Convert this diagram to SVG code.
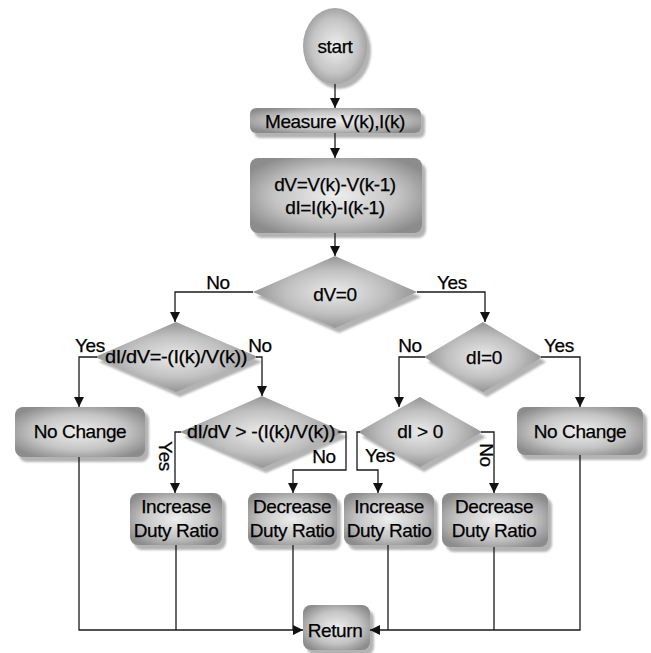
<svg xmlns="http://www.w3.org/2000/svg" width="651" height="653" viewBox="0 0 651 653">
<defs>
<radialGradient id="g" cx="50%" cy="50%" r="60%">
<stop offset="0" stop-color="#eeeeee"/>
<stop offset="0.6" stop-color="#c4c4c4"/>
<stop offset="1" stop-color="#8c8c8c"/>
</radialGradient>
<radialGradient id="gd" cx="50%" cy="50%" r="55%">
<stop offset="0" stop-color="#eaeaea"/>
<stop offset="0.55" stop-color="#c0c0c0"/>
<stop offset="1" stop-color="#8a8a8a"/>
</radialGradient>
<filter id="sh" x="-20%" y="-20%" width="150%" height="160%">
<feDropShadow dx="4" dy="5" stdDeviation="1.2" flood-color="#a0a0a0" flood-opacity="0.8"/>
</filter>
<marker id="ah" viewBox="0 0 10 10" refX="10" refY="5" markerWidth="10" markerHeight="10" markerUnits="userSpaceOnUse" orient="auto">
<path d="M0,0 L10,5 L0,10 z" fill="#111"/>
</marker>
</defs>
<style>
.n{fill:url(#g);filter:url(#sh)}
.d{fill:url(#gd);filter:url(#sh)}
text{font-family:"Liberation Sans",Arial,sans-serif;font-size:19px;letter-spacing:-0.4px;fill:#000;stroke:#000;stroke-width:0.25;text-anchor:middle}
.c path{fill:none;stroke:#1a1a1a;stroke-width:1.3}
</style>
<rect width="651" height="653" fill="#fff"/>

<g id="start"><ellipse class="n" cx="335" cy="46" rx="32" ry="38"/><text x="335" y="53">start</text></g>
<g id="measure"><rect class="n" x="250" y="108" width="171" height="25" rx="6"/><text x="335" y="128">Measure V(k),I(k)</text></g>
<g id="compute"><rect class="n" x="250" y="158" width="172" height="75" rx="8"/><text x="335" y="191">dV=V(k)-V(k-1)</text><text x="335" y="214">dI=I(k)-I(k-1)</text></g>
<g id="dv0"><polygon class="d" points="335,256 417,292 335,328 253,292"/><text x="335" y="301">dV=0</text></g>
<g id="didv_eq"><polygon class="d" points="176,322 258,357 176,392 95,357"/><text x="176" y="363" textLength="142" lengthAdjust="spacingAndGlyphs">dI/dV=-(I(k)/V(k))</text></g>
<g id="di0"><polygon class="d" points="483,322 542,357 483,392 424,357"/><text x="484" y="364">dI=0</text></g>
<g id="nochange_l"><rect class="n" x="15" y="407" width="130" height="50" rx="8"/><text x="80" y="438">No Change</text></g>
<g id="didv_gt"><polygon class="d" points="262,396 344,432 262,468 180,432"/><text x="261" y="438" textLength="148" lengthAdjust="spacingAndGlyphs">dI/dV &gt; -(I(k)/V(k))</text></g>
<g id="digt0"><polygon class="d" points="420,397 482,432 420,467 358,432"/><text x="420" y="438">dI &gt; 0</text></g>
<g id="nochange_r"><rect class="n" x="517" y="407" width="126" height="48" rx="8"/><text x="580" y="438">No Change</text></g>
<g id="inc_l"><rect class="n" x="130" y="493" width="92" height="52" rx="8"/><text x="176" y="513">Increase</text><text x="176" y="537">Duty Ratio</text></g>
<g id="dec_l"><rect class="n" x="248" y="493" width="89" height="52" rx="8"/><text x="292" y="513">Decrease</text><text x="292" y="537">Duty Ratio</text></g>
<g id="inc_r"><rect class="n" x="344" y="493" width="90" height="52" rx="8"/><text x="389" y="513">Increase</text><text x="389" y="537">Duty Ratio</text></g>
<g id="dec_r"><rect class="n" x="442" y="493" width="106" height="54" rx="8"/><text x="494" y="513">Decrease</text><text x="494" y="537">Duty Ratio</text></g>
<g id="return"><rect class="n" x="303" y="605" width="67" height="45" rx="8"/><text x="335" y="637">Return</text></g>

<g id="connectors" class="c">
<path d="M335,84 V108" marker-end="url(#ah)"/>
<path d="M335,133 V158" marker-end="url(#ah)"/>
<path d="M335,233 V256" marker-end="url(#ah)"/>
<path d="M253,292 H175 V322" marker-end="url(#ah)"/>
<path d="M417,292 H485 V322" marker-end="url(#ah)"/>
<path d="M97,357 H79 V407" marker-end="url(#ah)"/>
<path d="M256,357 H262 V396" marker-end="url(#ah)"/>
<path d="M181,432 H175 V493" marker-end="url(#ah)"/>
<path d="M338,432 H346 V470 H293 V493" marker-end="url(#ah)"/>
<path d="M425,357 H399 V407" marker-end="url(#ah)"/>
<path d="M541,357 H580 V407" marker-end="url(#ah)"/>
<path d="M360,432 H357 V470 H378 V493" marker-end="url(#ah)"/>
<path d="M481,432 H494 V493" marker-end="url(#ah)"/>
<path d="M79,457 V630 H303" marker-end="url(#ah)"/>
<path d="M176,545 V630"/>
<path d="M293,545 V630"/>
<path d="M580,455 V630 H370" marker-end="url(#ah)"/>
<path d="M388,545 V630"/>
<path d="M494,547 V630"/>
</g>

<g id="labels">
<text x="218" y="289">No</text>
<text x="452" y="289">Yes</text>
<text x="90" y="352">Yes</text>
<text x="260" y="352">No</text>
<text x="410" y="352">No</text>
<text x="559" y="352">Yes</text>
<text transform="translate(159,456) rotate(90)">Yes</text>
<text x="324" y="463">No</text>
<text x="380" y="462">Yes</text>
<text transform="translate(480,455) rotate(90)">No</text>
</g>
</svg>
